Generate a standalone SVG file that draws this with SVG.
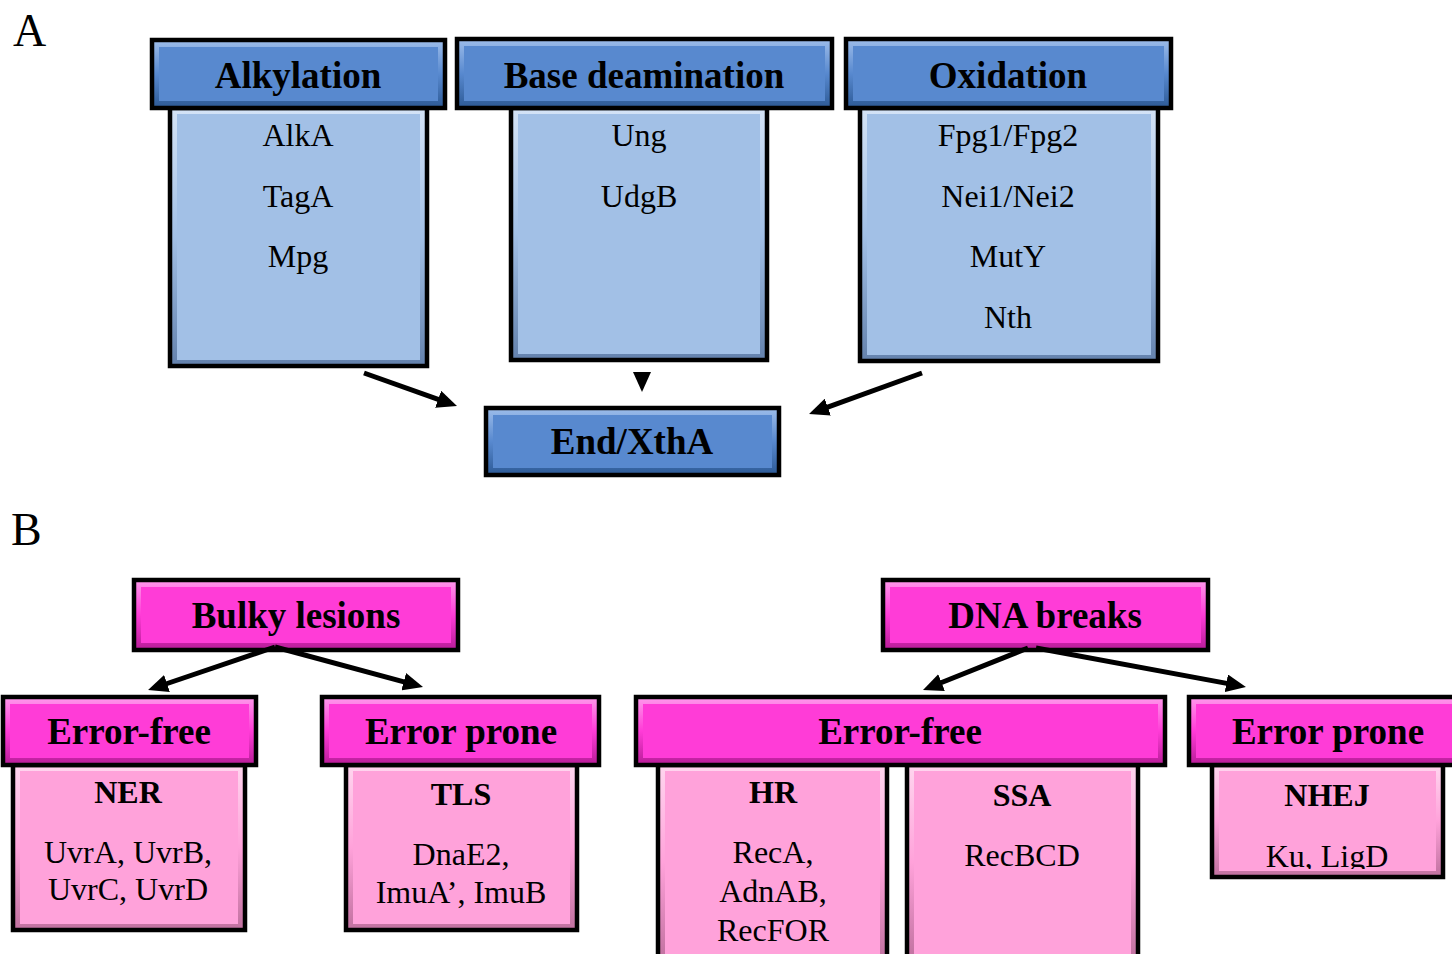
<svg xmlns="http://www.w3.org/2000/svg" width="1452" height="954" viewBox="0 0 1452 954">
  <defs>
    <!-- bevel frames: light upper edge, dark lower edge -->
    <linearGradient id="gBlueHead" x1="0" y1="0" x2="0" y2="1">
      <stop offset="0" stop-color="#9dbdea"/>
      <stop offset="0.5" stop-color="#5889cf"/>
      <stop offset="1" stop-color="#2d5a96"/>
    </linearGradient>
    <linearGradient id="gBlueBody" x1="0" y1="0" x2="0" y2="1">
      <stop offset="0" stop-color="#d4e3f6"/>
      <stop offset="0.5" stop-color="#a2c0e6"/>
      <stop offset="1" stop-color="#6482ad"/>
    </linearGradient>
    <linearGradient id="gPinkHead" x1="0" y1="0" x2="0" y2="1">
      <stop offset="0" stop-color="#ff99ec"/>
      <stop offset="0.5" stop-color="#ff3cd7"/>
      <stop offset="1" stop-color="#b81c98"/>
    </linearGradient>
    <linearGradient id="gPinkBody" x1="0" y1="0" x2="0" y2="1">
      <stop offset="0" stop-color="#ffd6ef"/>
      <stop offset="0.5" stop-color="#ffa2da"/>
      <stop offset="1" stop-color="#c0719f"/>
    </linearGradient>
    <marker id="arrow" markerUnits="userSpaceOnUse" markerWidth="20" markerHeight="18" refX="6" refY="9" orient="auto">
      <path d="M0,0 L20,9 L0,18 z" fill="#000"/>
    </marker>
    <clipPath id="clipNhej">
      <rect x="1214" y="768" width="227" height="101"/>
    </clipPath>
    <style>
      .frame { stroke: #000; stroke-width: 4.5; }
      .bh { fill: url(#gBlueHead); }
      .bhi { fill: #5889cf; }
      .bb { fill: url(#gBlueBody); }
      .bbi { fill: #a2c0e6; }
      .ph { fill: url(#gPinkHead); }
      .phi { fill: #ff3cd7; }
      .pb { fill: url(#gPinkBody); }
      .pbi { fill: #ffa2da; }
      .border { fill: none; stroke: #000; stroke-width: 4.5; }
      text { font-family: "Liberation Serif", "Times New Roman", serif; fill: #000; text-anchor: middle; }
      .head { font-size: 37px; font-weight: bold; }
      .sub { font-size: 32px; font-weight: bold; }
      .item { font-size: 32px; }
      .panel { font-size: 46px; text-anchor: start; }
      .conn { stroke: #000; stroke-width: 5; fill: none; marker-end: url(#arrow); }
    </style>
  </defs>

  <rect width="1452" height="954" fill="#fff"/>

  <text class="panel" x="13" y="46">A</text>
  <text class="panel" x="11" y="545">B</text>

  <!-- Panel A: base excision repair -->
  <g id="alkylation-body">
    <rect class="bb" x="170" y="108" width="257" height="258"/>
    <rect class="bbi" x="177" y="114" width="243" height="246"/>
    <rect class="border" x="170" y="108" width="257" height="258"/>
    <text class="item" x="298" y="146">AlkA</text>
    <text class="item" x="298" y="207">TagA</text>
    <text class="item" x="298" y="267">Mpg</text>
  </g>
  <g id="alkylation">
    <rect class="bh" x="152" y="40" width="293" height="68"/>
    <rect class="bhi" x="159" y="47" width="279" height="54"/>
    <rect class="border" x="152" y="40" width="293" height="68"/>
    <text class="head" x="298" y="88">Alkylation</text>
  </g>

  <g id="deamination-body">
    <rect class="bb" x="511" y="108" width="256" height="252"/>
    <rect class="bbi" x="518" y="114" width="242" height="240"/>
    <rect class="border" x="511" y="108" width="256" height="252"/>
    <text class="item" x="639" y="146">Ung</text>
    <text class="item" x="639" y="207">UdgB</text>
  </g>
  <g id="base-deamination">
    <rect class="bh" x="457" y="39" width="375" height="69"/>
    <rect class="bhi" x="464" y="46" width="361" height="55"/>
    <rect class="border" x="457" y="39" width="375" height="69"/>
    <text class="head" x="644" y="88">Base deamination</text>
  </g>

  <g id="oxidation-body">
    <rect class="bb" x="860" y="108" width="298" height="253"/>
    <rect class="bbi" x="867" y="114" width="284" height="241"/>
    <rect class="border" x="860" y="108" width="298" height="253"/>
    <text class="item" x="1008" y="146">Fpg1/Fpg2</text>
    <text class="item" x="1008" y="207">Nei1/Nei2</text>
    <text class="item" x="1008" y="267">MutY</text>
    <text class="item" x="1008" y="328">Nth</text>
  </g>
  <g id="oxidation">
    <rect class="bh" x="846" y="39" width="325" height="69"/>
    <rect class="bhi" x="853" y="46" width="311" height="55"/>
    <rect class="border" x="846" y="39" width="325" height="69"/>
    <text class="head" x="1008" y="88">Oxidation</text>
  </g>

  <g id="end-xtha">
    <rect class="bh" x="486" y="408" width="293" height="67"/>
    <rect class="bhi" x="493" y="415" width="279" height="53"/>
    <rect class="border" x="486" y="408" width="293" height="67"/>
    <text class="head" x="632" y="454">End/XthA</text>
  </g>

  <!-- Panel B: lesion-specific pathways -->
  <g id="bulky-lesions">
    <rect class="ph" x="134" y="580" width="324" height="70"/>
    <rect class="phi" x="141" y="587" width="310" height="56"/>
    <rect class="border" x="134" y="580" width="324" height="70"/>
    <text class="head" x="296" y="628">Bulky lesions</text>
  </g>

  <g id="dna-breaks">
    <rect class="ph" x="883" y="580" width="325" height="70"/>
    <rect class="phi" x="890" y="587" width="311" height="56"/>
    <rect class="border" x="883" y="580" width="325" height="70"/>
    <text class="head" x="1045" y="628">DNA breaks</text>
  </g>

  <g id="ner">
    <rect class="pb" x="13" y="765" width="232" height="165"/>
    <rect class="pbi" x="20" y="771" width="218" height="153"/>
    <rect class="border" x="13" y="765" width="232" height="165"/>
    <text class="sub" x="128" y="803">NER</text>
    <text class="item" x="128" y="863">UvrA, UvrB,</text>
    <text class="item" x="128" y="900">UvrC, UvrD</text>
  </g>
  <g id="error-free-bulky">
    <rect class="ph" x="3" y="697" width="253" height="68"/>
    <rect class="phi" x="10" y="704" width="239" height="54"/>
    <rect class="border" x="3" y="697" width="253" height="68"/>
    <text class="head" x="129" y="744">Error-free</text>
  </g>

  <g id="tls">
    <rect class="pb" x="346" y="765" width="231" height="165"/>
    <rect class="pbi" x="353" y="771" width="217" height="153"/>
    <rect class="border" x="346" y="765" width="231" height="165"/>
    <text class="sub" x="461" y="805">TLS</text>
    <text class="item" x="461" y="865">DnaE2,</text>
    <text class="item" x="461" y="903">ImuA’, ImuB</text>
  </g>
  <g id="error-prone-bulky">
    <rect class="ph" x="322" y="697" width="277" height="68"/>
    <rect class="phi" x="329" y="704" width="263" height="54"/>
    <rect class="border" x="322" y="697" width="277" height="68"/>
    <text class="head" x="461" y="744">Error prone</text>
  </g>

  <g id="hr">
    <rect class="pb" x="658" y="765" width="229" height="195"/>
    <rect class="pbi" x="665" y="771" width="215" height="195"/>
    <rect class="border" x="658" y="765" width="229" height="195"/>
    <text class="sub" x="773" y="803">HR</text>
    <text class="item" x="773" y="863">RecA,</text>
    <text class="item" x="773" y="902">AdnAB,</text>
    <text class="item" x="773" y="941">RecFOR</text>
  </g>
  <g id="ssa">
    <rect class="pb" x="907" y="765" width="231" height="195"/>
    <rect class="pbi" x="914" y="771" width="217" height="195"/>
    <rect class="border" x="907" y="765" width="231" height="195"/>
    <text class="sub" x="1022" y="806">SSA</text>
    <text class="item" x="1022" y="866">RecBCD</text>
  </g>
  <g id="error-free-breaks">
    <rect class="ph" x="636" y="697" width="529" height="68"/>
    <rect class="phi" x="643" y="704" width="515" height="54"/>
    <rect class="border" x="636" y="697" width="529" height="68"/>
    <text class="head" x="900" y="744">Error-free</text>
  </g>

  <g id="nhej">
    <rect class="pb" x="1212" y="765" width="231" height="112"/>
    <rect class="pbi" x="1219" y="771" width="217" height="100"/>
    <text class="sub" x="1327" y="806">NHEJ</text>
    <text class="item" x="1327" y="867" clip-path="url(#clipNhej)">Ku, LigD</text>
    <rect class="border" x="1212" y="765" width="231" height="112"/>
  </g>
  <g id="error-prone-breaks">
    <rect class="ph" x="1189" y="697" width="270" height="68"/>
    <rect class="phi" x="1196" y="704" width="256" height="54"/>
    <rect class="border" x="1189" y="697" width="270" height="68"/>
    <text class="head" x="1328" y="744">Error prone</text>
  </g>

  <g id="connectors">
    <line class="conn" x1="364" y1="373" x2="443.8" y2="401.3"/>
    <line class="conn" x1="642" y1="372" x2="642" y2="378"/>
    <line class="conn" x1="922" y1="373" x2="822.2" y2="409.2"/>
    <line class="conn" x1="275" y1="647" x2="161.3" y2="685.5"/>
    <line class="conn" x1="275" y1="647" x2="409.5" y2="683.3"/>
    <line class="conn" x1="1028" y1="648" x2="936" y2="684.8"/>
    <line class="conn" x1="1036" y1="648" x2="1232.2" y2="684.4"/>
  </g>
</svg>
